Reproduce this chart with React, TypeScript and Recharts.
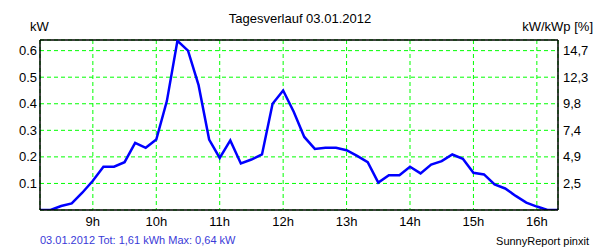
import React from 'react';
import { LineChart, Line, XAxis, YAxis, CartesianGrid, ReferenceLine } from 'recharts';

const times = [
  '8:10', '8:20', '8:30', '8:40', '8:50', '9:00', '9:10', '9:20', '9:30', '9:40', '9:50',
  '10:00', '10:10', '10:20', '10:30', '10:40', '10:50', '11:00', '11:10', '11:20', '11:30', '11:40', '11:50',
  '12:00', '12:10', '12:20', '12:30', '12:40', '12:50', '13:00', '13:10', '13:20', '13:30', '13:40', '13:50',
  '14:00', '14:10', '14:20', '14:30', '14:40', '14:50', '15:00', '15:10', '15:20', '15:30', '15:40', '15:50',
  '16:00', '16:10', '16:20',
];
const powerKW = [
  0, 0, 0.015, 0.025, 0.065, 0.11, 0.163, 0.163, 0.18, 0.253, 0.234,
  0.265, 0.41, 0.637, 0.6, 0.47, 0.265, 0.196, 0.262, 0.175, 0.19, 0.209, 0.4,
  0.45, 0.37, 0.275, 0.23, 0.234, 0.234, 0.225, 0.204, 0.18, 0.103, 0.131, 0.131,
  0.163, 0.138, 0.171, 0.184, 0.209, 0.193, 0.14, 0.134, 0.096, 0.081, 0.053, 0.028,
  0.013, 0, 0,
];
const xTicks = [540, 600, 660, 720, 780, 840, 900, 960];
const xTickLabels = ['9h', '10h', '11h', '12h', '13h', '14h', '15h', '16h'];
const yTicks = [0.1, 0.2, 0.3, 0.4, 0.5, 0.6];
const yTickLabels = ['0.1', '0.2', '0.3', '0.4', '0.5', '0.6'];
const rightTickLabels = ['2,5', '4,9', '7,4', '9,8', '12,3', '14,7'];

const toMin = (t: string) => {
  const [h, m] = t.split(':').map(Number);
  return h * 60 + m;
};

const data = times.map((t, i) => ({ t: toMin(t), kw: powerKW[i] }));

const font = 'Liberation Sans, Arial, sans-serif';
const tickStyle = { fill: '#000', fontSize: 13, fontFamily: font };

export default function App() {
  return (
    <div style={{ position: 'absolute', left: 0, top: 0, width: 600, height: 250, background: '#fff', fontFamily: font }}>
      <LineChart width={600} height={250} data={data} margin={{ top: 40, right: 0, bottom: 20, left: 0 }}>
        <CartesianGrid stroke="#00ff00" strokeDasharray="4 3" horizontal vertical yAxisId="left" />
        <XAxis
          dataKey="t"
          type="number"
          domain={[490, 980]}
          ticks={xTicks}
          tickFormatter={(v: number) => xTickLabels[xTicks.indexOf(v)] ?? ''}
          tickLine={false}
          tickSize={6}
          tickMargin={1}
          height={20}
          axisLine={{ stroke: '#000', strokeWidth: 1.5 }}
          tick={tickStyle}
          allowDataOverflow
        />
        <YAxis
          yAxisId="left"
          orientation="left"
          type="number"
          domain={[0, 0.64]}
          ticks={yTicks}
          tickFormatter={(v: number) => yTickLabels[yTicks.indexOf(v)] ?? ''}
          width={40}
          tickLine={false}
          tickSize={3}
          tickMargin={0}
          axisLine={{ stroke: '#000', strokeWidth: 1.5 }}
          tick={tickStyle}
          allowDataOverflow
        />
        <YAxis
          yAxisId="right"
          orientation="right"
          type="number"
          domain={[0, 0.64]}
          ticks={yTicks}
          tickFormatter={(v: number) => rightTickLabels[yTicks.indexOf(v)] ?? ''}
          width={42}
          tickLine={false}
          tickSize={3}
          tickMargin={2}
          axisLine={{ stroke: '#000', strokeWidth: 1.5 }}
          tick={{ ...tickStyle, textAnchor: 'start' }}
          allowDataOverflow
        />
        <ReferenceLine yAxisId="left" y={0.64} stroke="#000" strokeWidth={1.5} />
        <Line
          yAxisId="left"
          type="linear"
          dataKey="kw"
          stroke="#0000ff"
          strokeWidth={2.5}
          dot={false}
          isAnimationActive={false}
        />
      </LineChart>
      <div style={{ position: 'absolute', left: 0, width: 600, top: 11, textAlign: 'center', fontSize: 13, color: '#000', whiteSpace: 'nowrap' }}>
        Tagesverlauf 03.01.2012
      </div>
      <div style={{ position: 'absolute', left: 30, top: 19, fontSize: 13, color: '#000' }}>kW</div>
      <div style={{ position: 'absolute', right: 7, top: 19, fontSize: 13, color: '#000', whiteSpace: 'nowrap' }}>kW/kWp [%]</div>
      <div style={{ position: 'absolute', left: 40, top: 234, fontSize: 11, color: '#3a3ad8', whiteSpace: 'nowrap' }}>
        03.01.2012 Tot: 1,61 kWh Max: 0,64 kW
      </div>
      <div style={{ position: 'absolute', right: 11, top: 235, fontSize: 11, color: '#000', whiteSpace: 'nowrap' }}>
        SunnyReport pinxit
      </div>
    </div>
  );
}
